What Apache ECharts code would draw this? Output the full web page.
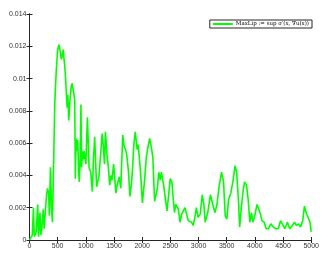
<!DOCTYPE html>
<html>
<head>
<meta charset="utf-8">
<title>MaxLip</title>
<script src="https://cdn.jsdelivr.net/npm/echarts@6/dist/echarts.min.js"></script>
<style>
  html, body { margin: 0; padding: 0; background: #fff; }
  #main { width: 322px; height: 253px; }
</style>
</head>
<body>
<div id="main"></div>
<script>
// iterations (x) and MaxLip values
var iters = [0, 25, 50, 70, 85, 100, 120, 146, 160, 186, 200, 220, 244, 260, 280, 303, 320, 340, 352, 372,
  390, 407, 430, 448, 475, 500, 523, 545, 564, 580, 599, 610, 622, 640, 655, 669, 680, 697, 715, 740,
  756, 775, 790, 802, 814, 825, 840, 855, 870, 883, 900, 913, 925, 940, 955, 970, 1000, 1028, 1040, 1057,
  1087, 1115, 1135, 1157, 1191, 1210, 1232, 1261, 1290, 1310, 1331, 1348, 1377, 1400, 1423, 1445, 1464, 1493, 1534, 1550,
  1570, 1592, 1620, 1655, 1680, 1705, 1725, 1755, 1784, 1810, 1830, 1854, 1877, 1911, 1930, 1969, 2004, 2016, 2045, 2073,
  2100, 2132, 2160, 2190, 2220, 2248, 2270, 2294, 2323, 2340, 2364, 2381, 2410, 2440, 2470, 2498, 2527, 2550, 2573, 2596,
  2643, 2672, 2700, 2730, 2759, 2790, 2817, 2875, 2904, 2935, 2962, 2991, 3030, 3066, 3095, 3118, 3164, 3211, 3252, 3292,
  3327, 3369, 3409, 3444, 3474, 3503, 3532, 3573, 3614, 3648, 3677, 3706, 3730, 3759, 3790, 3817, 3852, 3881, 3911, 3940,
  3963, 3992, 4038, 4067, 4100, 4125, 4166, 4201, 4241, 4282, 4328, 4375, 4415, 4456, 4502, 4531, 4578, 4618, 4664, 4705,
  4735, 4775, 4810, 4850, 4880, 4909, 4938, 4979, 5000];
var maxLip = [0, 0.0001, 0.0003, 0.0020, 0.0002, 0.0001, 0.0005, 0.0022, 0.0002, 0.0017, 0.0003, 0.0008, 0.0019, 0.0007, 0.0006, 0.0028, 0.0032, 0.0029, 0.0015, 0.0045,
  0.0020, 0.0011, 0.0050, 0.0084, 0.0105, 0.0118, 0.0121, 0.0117, 0.0112, 0.0114, 0.0118, 0.0113, 0.0109, 0.0101, 0.0090, 0.0082, 0.0090, 0.0074, 0.0085, 0.0095,
  0.0097, 0.0096, 0.0090, 0.0087, 0.0038, 0.0063, 0.0055, 0.0062, 0.0045, 0.0036, 0.0050, 0.0084, 0.0045, 0.0055, 0.0050, 0.0055, 0.0047, 0.0076, 0.0077, 0.0045,
  0.0042, 0.0030, 0.0050, 0.0064, 0.0033, 0.0036, 0.0039, 0.0039, 0.0066, 0.0058, 0.0047, 0.0067, 0.0052, 0.0045, 0.0034, 0.0040, 0.0037, 0.0047, 0.0029, 0.0033,
  0.0036, 0.0039, 0.0032, 0.0065, 0.0058, 0.0056, 0.0053, 0.0043, 0.0027, 0.0035, 0.0045, 0.0060, 0.0067, 0.0056, 0.0059, 0.0043, 0.0023, 0.0022, 0.0038, 0.0051,
  0.0057, 0.0063, 0.0058, 0.0051, 0.0024, 0.0025, 0.0032, 0.0042, 0.0037, 0.0042, 0.0043, 0.0034, 0.0026, 0.0018, 0.0028, 0.0038, 0.0036, 0.0026, 0.0017, 0.0022,
  0.0019, 0.0011, 0.0016, 0.0018, 0.0020, 0.0016, 0.0012, 0.0011, 0.0009, 0.0014, 0.0020, 0.0014, 0.0016, 0.0028, 0.0022, 0.0011, 0.0017, 0.0028, 0.0022, 0.0017,
  0.0022, 0.0034, 0.0042, 0.0036, 0.0015, 0.0013, 0.0025, 0.0029, 0.0037, 0.0046, 0.0042, 0.0026, 0.0008, 0.0020, 0.0030, 0.0036, 0.0034, 0.0025, 0.0011, 0.0017,
  0.0011, 0.0014, 0.0022, 0.0022, 0.0016, 0.0012, 0.0011, 0.0007, 0.0007, 0.0010, 0.0008, 0.0007, 0.0007, 0.0012, 0.0009, 0.0007, 0.0011, 0.0007, 0.0009, 0.0011,
  0.0009, 0.0010, 0.0008, 0.0012, 0.0021, 0.0017, 0.0016, 0.0011, 0.0005];

var seriesName = "MaxLip := sup \u03c3\u2032(x, \u2207u(x))";

var pts = iters.map(function (x, i) { return [x, maxLip[i]]; });

var chart = echarts.init(document.getElementById('main'));

var axisCol = '#262626';
var tick = { show: true, inside: true, length: 3, lineStyle: { color: axisCol, width: 1 } };

var option = {
  animation: false,
  grid: { left: 29.5, right: 5.5, top: 14, bottom: 13 },
  legend: {
    data: [seriesName],
    right: 10,
    top: 20,
    itemWidth: 20,
    itemHeight: 2,
    itemGap: 2,
    padding: [1, 3, 1, 3],
    borderColor: axisCol,
    borderWidth: 1,
    backgroundColor: '#fff',
    textStyle: { fontFamily: 'DejaVu Serif', fontSize: 5.5, color: '#000', padding: [0, 0, 0, -2] },
    icon: 'rect'
  },
  xAxis: [{
    type: 'value', min: 0, max: 5000, interval: 500,
    axisLine: { show: true, lineStyle: { color: axisCol } },
    axisTick: tick,
    splitLine: { show: false },
    axisLabel: {
      fontSize: 7, color: '#333', margin: 3, fontFamily: 'Liberation Sans',
      formatter: function (v) { return String(v); }
    }
  }, {
    type: 'value', min: 0, max: 5000, interval: 500, position: 'top',
    axisLine: { show: true, lineStyle: { color: axisCol } },
    axisTick: tick, axisLabel: { show: false }, splitLine: { show: false }
  }],
  yAxis: [{
    type: 'value', min: 0, max: 0.014, interval: 0.002,
    axisLine: { show: true, lineStyle: { color: axisCol } },
    axisTick: tick,
    splitLine: { show: false },
    axisLabel: {
      fontSize: 7, color: '#333', margin: 3, fontFamily: 'Liberation Sans',
      formatter: function (v) { return String(parseFloat(v.toFixed(3))); }
    }
  }, {
    type: 'value', min: 0, max: 0.014, interval: 0.002, position: 'right',
    axisLine: { show: true, lineStyle: { color: axisCol } },
    axisTick: tick, axisLabel: { show: false }, splitLine: { show: false }
  }],
  series: [{
    name: seriesName,
    type: 'line',
    data: pts,
    showSymbol: false,
    lineStyle: { color: '#00ff00', width: 1.6 },
    itemStyle: { color: '#00ff00' }
  }]
};

chart.setOption(option);
</script>
</body>
</html>
